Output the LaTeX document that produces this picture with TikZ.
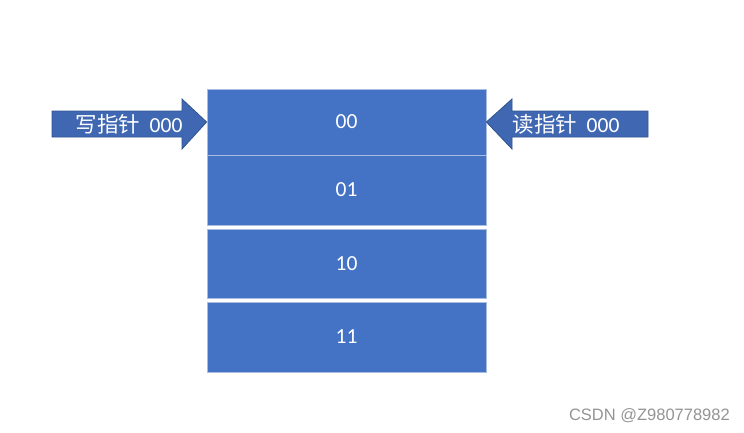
\documentclass[tikz,border=0pt]{standalone}
\usepackage{fontspec}
\setmainfont{Carlito}
\newfontfamily\cjk{Noto Sans CJK SC}
\newfontfamily\wmfont{Liberation Sans}
\definecolor{cellblue}{HTML}{4472C4}
\definecolor{celledge}{HTML}{A9BDE3}
\definecolor{ptrblue}{HTML}{4068B2}
\definecolor{ptredge}{HTML}{2F528F}
\newcommand{\cw}{279pt}

\begin{document}
\begin{tikzpicture}[x=1pt,y=-1pt,
    cell/.style={draw=celledge, fill=cellblue, line width=0.8pt, rectangle, minimum width=\cw, inner sep=0pt, text=white, font=\fontsize{21.5}{25}\selectfont},
    ptr/.style={draw=ptredge, fill=ptrblue, line width=0.8pt, line join=miter},
    ptrtext/.style={text=white, inner sep=0pt, font=\fontsize{21.5}{25}\selectfont}]
    \useasboundingbox (0,0) rectangle (744,432);

    % the four cells
    \node[cell, minimum height=66pt] (cell-00) at (346.5,122) {00};
    \node[cell, minimum height=70pt] (cell-01) at (346.5,190) {01};
    \node[cell, minimum height=69pt] (cell-10) at (346.5,263.5) {10};
    \node[cell, minimum height=70pt] (cell-11) at (346.5,337) {11};

    % write pointer
    \draw[ptr] (52,111) -- (182,111) -- (182,99) -- (cell-00.west) -- (182,149) -- (182,137) -- (52,137) -- cycle;
    \node[ptrtext] (wr-ptr) at (129,124) {{\cjk 写指针}\hspace{0.45em}000};

    % read pointer
    \draw[ptr] (cell-00.east) -- (512,99) -- (512,111) -- (648,111) -- (648,137) -- (512,137) -- (512,149) -- cycle;
    \node[ptrtext] (rd-ptr) at (566,124) {{\cjk 读指针}\hspace{0.45em}000};

    \node[text=black!42, inner sep=0pt, anchor=east, font=\wmfont\fontsize{16.5}{19}\selectfont] (mark) at (730,416) {CSDN @Z980778982};
\end{tikzpicture}
\end{document}
